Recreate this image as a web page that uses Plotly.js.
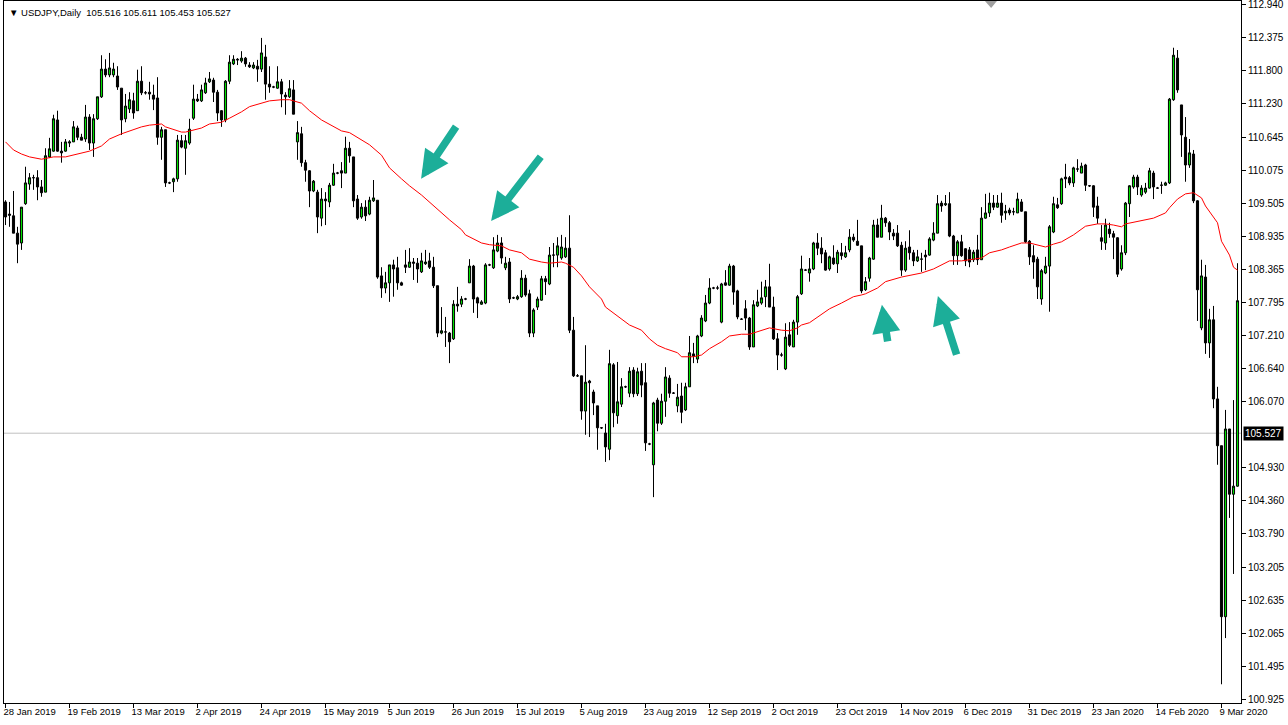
<!DOCTYPE html>
<html>
<head>
<meta charset="utf-8">
<script src="https://cdn.plot.ly/plotly-3.0.1.min.js"></script>
<style>html,body{margin:0;padding:0;background:#fff;}#chart{width:1288px;height:725px;}</style>
</head>
<body>
<div id="chart"></div>
<script>
// ---- Data (USDJPY Daily) ----
const dateLabels = ['28 Jan 2019','19 Feb 2019','13 Mar 2019','2 Apr 2019','24 Apr 2019','15 May 2019','5 Jun 2019','26 Jun 2019','15 Jul 2019','5 Aug 2019','23 Aug 2019','12 Sep 2019','2 Oct 2019','23 Oct 2019','14 Nov 2019','6 Dec 2019','31 Dec 2019','23 Jan 2020','14 Feb 2020','9 Mar 2020'];
const dateLabelBars = [0,16,32,48,64,80,96,112,128,144,160,176,192,208,224,240,256,272,288,304];
const priceLabels = ['112.940','112.375','111.800','111.230','110.645','110.075','109.505','108.935','108.365','107.795','107.210','106.640','106.070','104.930','104.360','103.790','103.205','102.635','102.065','101.495','100.925'];
const bidPrice = 105.527;
const header = '\u25BC USDJPY,Daily  105.516 105.611 105.453 105.527';

const open = [
109.53,109.32,109.29,108.99,108.82,109.50,109.84,109.95,109.95,109.79,
109.70,110.31,110.41,110.95,110.41,110.41,110.55,110.57,110.81,110.65,
110.62,111.00,110.55,110.97,111.35,111.83,111.73,111.73,111.71,111.50,
110.97,111.14,111.28,111.11,111.62,111.42,111.43,111.38,111.33,110.65,
110.78,109.86,109.88,109.93,110.59,110.46,110.55,110.98,111.31,111.28,
111.42,111.61,111.64,111.43,111.11,110.95,111.62,111.92,112.00,111.97,
112.02,111.90,111.85,111.88,111.83,112.04,111.57,111.52,111.50,111.61,
111.38,111.35,111.47,110.57,110.71,110.21,110.07,109.72,109.70,109.25,
109.58,109.53,109.82,110.03,110.07,110.03,110.46,110.31,109.58,109.27,
109.44,109.32,109.55,109.56,108.25,108.04,108.13,108.44,108.39,108.13,
108.44,108.40,108.49,108.47,108.32,108.46,108.51,108.40,108.08,107.26,
107.28,107.26,107.16,107.76,107.76,107.85,108.13,108.42,107.87,107.76,
107.78,108.44,108.39,108.68,108.82,108.39,108.49,107.87,107.85,107.89,
108.21,107.94,107.26,107.71,107.83,108.20,108.11,108.61,108.61,108.56,
108.58,108.73,107.31,106.52,106.52,105.91,106.43,106.24,106.00,105.62,
105.53,105.25,106.71,105.83,106.03,106.33,106.22,106.62,106.21,106.60,
106.40,105.34,104.98,106.10,105.70,106.08,106.48,106.22,106.00,106.17,
105.93,106.33,106.90,106.81,107.21,107.47,107.78,108.04,108.04,107.45,
108.13,108.09,108.42,107.99,107.50,107.68,107.52,107.02,107.73,107.78,
107.89,108.06,107.71,107.16,106.88,106.64,107.23,107.02,107.45,107.94,
108.35,108.30,108.37,108.82,108.73,108.65,108.37,108.56,108.46,108.65,
108.58,108.70,108.92,108.85,108.77,108.01,108.21,108.54,109.13,108.92,
109.25,109.17,108.99,108.99,108.78,108.35,108.75,108.65,108.51,108.54,
108.61,108.61,108.87,108.99,109.51,109.48,109.50,108.94,108.60,108.84,
108.72,108.70,108.53,108.70,108.53,109.25,109.34,109.51,109.44,109.51,
109.34,109.39,109.36,109.34,109.53,109.36,108.85,108.60,108.54,107.85,
108.30,108.42,109.01,109.48,109.50,109.96,109.95,109.86,110.10,110.03,
110.17,109.81,109.81,109.46,108.91,108.82,109.06,108.98,108.91,108.37,
108.65,109.50,109.79,109.96,109.65,109.70,109.77,110.03,109.77,109.82,
109.82,109.86,111.30,112.02,111.21,110.65,110.17,110.36,109.55,107.35,
108.23,107.09,107.49,106.12,105.31,102.35,105.60,104.47,104.61];

const high = [
109.56,109.53,109.72,109.10,109.44,110.14,110.03,110.00,110.08,109.91,
110.46,110.64,111.04,111.11,110.57,110.62,110.60,110.93,110.85,110.71,
111.21,111.05,111.05,111.35,112.07,112.00,112.11,111.94,111.88,111.50,
111.40,111.43,111.42,111.82,111.88,111.45,111.61,111.56,111.69,110.83,
110.78,109.88,109.95,110.69,110.69,110.69,110.97,111.56,111.40,111.56,
111.68,111.78,111.68,111.47,111.12,111.64,112.07,112.07,112.02,112.14,
112.04,111.95,111.95,111.99,112.37,112.25,111.88,111.54,111.88,111.66,
111.43,111.64,111.64,110.93,110.83,110.26,110.08,109.91,109.74,109.77,
109.70,109.86,110.19,110.05,110.22,110.66,110.57,110.31,109.65,109.51,
109.56,109.62,109.91,109.56,108.40,108.32,108.44,108.53,108.58,108.15,
108.70,108.73,108.56,108.56,108.65,108.70,108.65,108.58,108.08,107.71,
107.54,107.28,107.83,108.06,107.90,107.87,108.54,108.44,107.89,107.83,
108.47,108.46,108.92,108.96,108.92,108.58,108.56,107.89,107.92,108.35,
108.27,108.01,107.69,107.89,108.25,108.25,108.75,108.82,108.92,108.96,
108.92,109.30,107.54,106.55,106.52,107.05,106.45,106.28,106.00,105.63,
105.69,106.97,106.74,106.76,106.48,106.35,106.67,106.67,106.66,106.74,
106.74,105.36,106.07,106.14,106.21,106.67,106.53,106.24,106.38,106.40,
106.40,107.21,107.09,107.23,107.57,107.92,108.21,108.06,108.08,108.13,
108.35,108.46,108.44,108.01,107.52,107.83,107.54,107.83,108.01,108.15,
108.18,108.46,107.89,107.26,106.92,107.43,107.45,107.49,107.92,108.60,
108.37,108.56,108.84,108.99,108.92,108.70,108.60,108.78,108.70,108.82,
108.77,109.06,108.98,109.22,108.77,108.23,108.58,109.22,109.24,109.48,
109.27,109.20,109.06,109.13,108.84,108.85,109.04,108.70,108.70,108.65,
108.70,108.92,109.18,109.65,109.55,109.65,109.70,108.96,108.87,108.96,
108.73,108.75,108.70,108.96,109.44,109.67,109.69,109.65,109.65,109.69,
109.48,109.43,109.43,109.69,109.58,109.36,108.87,108.78,108.58,108.37,
108.58,109.13,109.62,109.60,109.95,110.19,109.98,110.14,110.27,110.21,
110.19,109.82,109.82,109.62,109.13,109.24,109.17,109.03,108.92,108.78,
109.53,109.82,110.00,110.00,109.82,109.86,110.12,110.07,109.79,109.88,
109.88,111.33,112.20,112.16,111.21,111.00,110.62,110.43,109.56,108.53,
108.44,107.68,107.73,106.33,105.31,105.93,105.60,106.10,108.47];

const low = [
109.13,109.10,108.99,108.47,108.70,109.48,109.74,109.74,109.56,109.62,
109.70,110.29,110.40,110.40,110.21,110.40,110.48,110.57,110.60,110.60,
110.57,110.43,110.31,110.95,111.33,111.69,111.69,111.69,111.47,110.69,
110.91,111.07,110.97,111.11,111.38,111.39,111.30,111.12,110.52,110.26,
109.79,109.84,109.70,109.88,110.46,110.00,110.52,110.95,111.26,111.26,
111.40,111.59,111.26,110.93,110.83,110.91,111.57,111.90,111.90,111.94,
111.87,111.85,111.83,111.61,111.78,111.30,111.42,111.50,111.49,111.17,
111.04,111.33,111.05,110.26,110.14,109.88,109.44,109.70,108.99,109.11,
109.13,109.44,109.81,110.01,109.77,110.03,110.21,109.44,109.22,109.24,
109.20,109.30,109.53,108.20,107.87,107.95,107.80,107.89,108.01,108.08,
108.30,108.39,108.18,108.13,108.30,108.44,108.37,108.04,107.19,107.24,
107.02,106.74,107.14,107.63,107.71,107.83,108.13,107.61,107.52,107.75,
107.76,108.42,108.37,108.66,108.46,108.35,107.78,107.85,107.83,107.87,
107.89,107.19,107.19,107.66,107.82,107.92,108.09,108.40,108.40,108.53,
108.56,107.26,106.50,106.50,105.76,105.50,105.46,105.84,105.24,105.60,
105.03,105.06,105.63,105.69,105.98,106.31,106.15,106.15,106.17,106.15,
105.22,105.32,104.42,105.56,105.67,105.81,106.14,106.21,105.89,105.70,
105.91,106.33,106.74,106.74,107.19,107.45,107.76,108.02,108.01,107.43,
108.08,108.08,107.75,107.50,107.49,107.31,106.97,107.02,107.71,107.75,
107.71,107.71,107.14,106.62,106.85,106.62,107.02,107.02,107.23,107.92,
108.34,108.15,108.35,108.61,108.47,108.34,108.34,108.44,108.30,108.53,
108.56,108.66,108.84,108.77,107.95,107.99,108.15,108.53,108.92,108.92,
109.10,108.87,108.87,108.75,108.25,108.32,108.53,108.42,108.49,108.32,
108.35,108.60,108.85,108.99,109.36,109.46,108.92,108.44,108.44,108.58,
108.42,108.40,108.49,108.44,108.53,109.24,109.27,109.39,109.43,109.17,
109.22,109.30,109.30,109.34,109.36,108.82,108.44,108.20,107.85,107.75,
108.28,107.63,108.99,109.41,109.48,109.77,109.82,109.79,110.05,110.03,
109.72,109.79,109.27,109.15,108.70,108.70,108.91,108.54,108.23,108.34,
108.61,109.27,109.76,109.65,109.62,109.67,109.76,109.58,109.76,109.67,
109.81,109.84,111.28,111.42,110.31,109.88,110.12,109.51,107.47,107.31,
106.90,106.83,105.96,104.98,101.18,101.98,104.06,103.09,104.60];

const close = [
109.27,109.30,108.99,108.80,109.44,109.86,109.95,109.95,109.79,109.69,
110.33,110.45,110.97,110.41,110.38,110.57,110.57,110.83,110.65,110.60,
111.00,110.55,110.97,111.35,111.83,111.73,111.85,111.83,111.52,110.95,
111.19,111.30,111.07,111.62,111.42,111.42,111.40,111.31,110.65,110.78,
109.86,109.86,109.93,110.60,110.48,110.59,110.79,111.31,111.28,111.47,
111.59,111.66,111.43,111.07,110.95,111.62,111.95,112.00,111.99,112.02,
111.92,111.87,111.90,111.83,112.11,111.57,111.52,111.52,111.61,111.40,
111.35,111.49,111.05,110.73,110.21,110.08,109.72,109.89,109.27,109.58,
109.55,109.82,110.03,110.03,110.03,110.46,110.33,109.55,109.25,109.44,
109.29,109.56,109.60,108.23,108.04,108.13,108.44,108.37,108.13,108.09,
108.40,108.49,108.47,108.37,108.51,108.49,108.40,108.08,107.26,107.30,
107.28,107.11,107.76,107.73,107.85,107.85,108.42,107.85,107.78,107.80,
108.44,108.44,108.70,108.82,108.56,108.47,107.85,107.87,107.89,108.21,
107.92,107.26,107.66,107.85,108.20,108.15,108.61,108.61,108.77,108.75,
108.73,107.31,106.52,106.52,105.91,106.41,106.40,106.05,105.62,105.62,
105.29,106.73,105.88,106.07,106.33,106.33,106.60,106.21,106.59,106.36,
105.36,105.34,106.05,105.70,106.08,106.50,106.22,106.22,106.15,105.89,
106.33,106.92,106.86,107.21,107.52,107.78,108.04,108.04,108.04,108.11,
108.09,108.42,107.97,107.54,107.50,107.52,107.02,107.75,107.80,107.87,
108.06,107.71,107.16,106.88,106.88,107.19,107.05,107.45,107.89,108.37,
108.35,108.37,108.82,108.73,108.63,108.35,108.58,108.46,108.66,108.60,
108.65,108.92,108.87,108.78,107.99,108.15,108.56,109.13,108.92,109.25,
109.17,109.01,108.94,108.77,108.35,108.73,108.65,108.51,108.58,108.54,
108.58,108.89,108.99,109.50,109.46,109.50,108.94,108.60,108.84,108.60,
108.51,108.49,108.66,108.53,109.25,109.34,109.51,109.44,109.51,109.30,
109.37,109.34,109.36,109.58,109.37,108.84,108.58,108.49,108.06,108.34,
108.42,109.10,109.50,109.43,109.93,109.93,109.86,110.12,110.10,110.15,
109.82,109.81,109.44,109.25,108.85,109.13,108.98,108.92,108.28,108.65,
109.51,109.81,109.96,109.79,109.77,109.77,110.07,109.79,109.77,109.82,
109.86,111.31,112.07,111.47,110.69,110.17,110.38,109.55,108.01,108.25,
107.09,107.49,106.12,105.31,102.35,105.60,104.47,104.61,107.82];

// Red moving average, read at sample bars
const maBars = [0,2,4,6,9,12,15,18,21,24,26,29,31,34,36,39,40,42,44,45,47,49,51,54,56,59,61,64,66,69,71,74,76,79,84,86,89,91,94,96,99,101,104,109,111,114,115,119,121,124,126,129,131,134,136,139,140,142,144,146,149,150,152,154,156,159,161,163,165,168,169,172,174,176,179,181,184,186,189,191,194,196,198,199,201,206,209,212,214,215,218,220,224,227,229,232,234,236,239,241,244,246,249,251,254,256,258,260,262,264,267,269,270,273,275,277,279,280,284,287,290,291,293,295,297,299,300,303,304,306,307,308];
const maValues = [110.57,110.43,110.36,110.31,110.27,110.31,110.31,110.36,110.41,110.50,110.62,110.71,110.76,110.83,110.86,110.88,110.83,110.78,110.74,110.74,110.78,110.81,110.88,110.91,110.98,111.09,111.18,111.24,111.28,111.30,111.30,111.24,111.11,110.95,110.76,110.73,110.60,110.52,110.34,110.12,109.93,109.81,109.65,109.34,109.22,109.05,108.96,108.82,108.79,108.77,108.70,108.65,108.54,108.49,108.47,108.49,108.47,108.40,108.25,108.06,107.85,107.71,107.61,107.50,107.40,107.31,107.16,107.05,106.99,106.92,106.85,106.85,106.88,106.99,107.11,107.21,107.24,107.24,107.30,107.35,107.31,107.30,107.35,107.40,107.44,107.68,107.78,107.89,107.92,107.94,108.04,108.15,108.23,108.27,108.30,108.37,108.44,108.51,108.51,108.53,108.56,108.65,108.70,108.75,108.82,108.82,108.79,108.75,108.80,108.84,108.96,109.05,109.11,109.15,109.15,109.13,109.10,109.15,109.20,109.25,109.34,109.43,109.58,109.67,109.69,109.60,109.46,109.17,108.85,108.61,108.40,108.35];

// Teal arrows drawn on the chart: [tipBar, tipPrice, tailBar, tailPrice]
const arrows = [
  [103.9, 109.93, 112.9, 110.86],
  [121.4, 109.20, 134.1, 110.34],
  [219.1, 107.75, 220.6, 107.09],
  [233.1, 107.90, 237.9, 106.86]
];

// ---- Build chart ----
const bars = open.map((_, i) => i);
const FONT = 'Liberation Sans, Arial, sans-serif';

const candles = {
  type: 'candlestick',
  x: bars, open: open, high: high, low: low, close: close,
  increasing: {line: {color: '#000000', width: 1}, fillcolor: '#00e000'},
  decreasing: {line: {color: '#000000', width: 1}, fillcolor: '#000000'},
  whiskerwidth: 0,
  hoverinfo: 'skip',
  showlegend: false
};
const ma = {
  type: 'scatter', mode: 'lines',
  x: maBars, y: maValues,
  line: {color: '#ff0000', width: 1},
  hoverinfo: 'skip', showlegend: false
};

const annotations = [
  {xref: 'paper', yref: 'paper', x: 0, y: 1, xanchor: 'left', yanchor: 'top', xshift: 3, yshift: -4,
   text: header, showarrow: false, font: {family: FONT, size: 9.5, color: '#000'}},
  {xref: 'paper', yref: 'y', x: 1, y: bidPrice, xanchor: 'left', yanchor: 'middle', xshift: 2,
   text: bidPrice.toFixed(3), showarrow: false, bgcolor: '#000000', borderpad: 1,
   font: {family: FONT, size: 10, color: '#ffffff'}}
];
arrows.forEach(a => {
  annotations.push({
    xref: 'x', yref: 'y', axref: 'x', ayref: 'y',
    x: a[0], y: a[1], ax: a[2], ay: a[3], text: '',
    showarrow: true, arrowhead: 2, arrowsize: 0.75, arrowwidth: 7.5, arrowcolor: '#1cae99'
  });
});

const layout = {
  width: 1288, height: 725,
  margin: {l: 4, r: 47, t: 1, b: 22, pad: 0},
  paper_bgcolor: '#ffffff', plot_bgcolor: '#ffffff',
  showlegend: false,
  boxgap: 0.25,
  xaxis: {
    type: 'linear', range: [-0.375, 308.875], fixedrange: true,
    rangeslider: {visible: false},
    tickvals: dateLabelBars, ticktext: dateLabels,
    ticks: 'outside', ticklen: 4, tickcolor: '#000', tickwidth: 1,
    ticklabelposition: 'outside right', ticklabelshift: -3,
    tickfont: {family: FONT, size: 9.5, color: '#000'},
    showgrid: false, zeroline: false,
    showline: true, linecolor: '#000', linewidth: 1, mirror: true
  },
  yaxis: {
    side: 'right', range: [100.856, 113.009], fixedrange: true,
    tickvals: priceLabels.map(Number), ticktext: priceLabels,
    ticks: 'outside', ticklen: 4, tickcolor: '#000', tickwidth: 1,
    ticklabeloverflow: 'allow',
    tickfont: {family: FONT, size: 10, color: '#000'},
    showgrid: false, zeroline: false,
    showline: true, linecolor: '#000', linewidth: 1, mirror: true
  },
  shapes: [
    {type: 'line', xref: 'paper', yref: 'y', x0: 0, x1: 1, y0: bidPrice, y1: bidPrice,
     line: {color: '#c0c0c0', width: 1}, layer: 'below'},
    {type: 'path', xref: 'paper', yref: 'paper', path: 'M 0.793 1 L 0.8027 1 L 0.798 0.99 Z',
     fillcolor: '#a0a0a0', line: {width: 0}}
  ],
  annotations: annotations
};

Plotly.newPlot('chart', [ma, candles], layout, {staticPlot: true, displayModeBar: false});
</script>
</body>
</html>
